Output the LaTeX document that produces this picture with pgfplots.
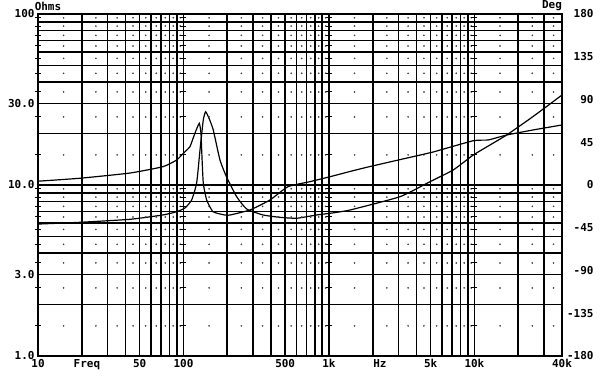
\documentclass[border=0pt]{standalone}
\usepackage{pgfplots}
\pgfplotsset{compat=1.18}
\usepackage{fontspec}
\setmainfont{DejaVu Sans Mono}
\begin{document}
\begin{tikzpicture}
\begin{axis}[name=ax,
  scale only axis, width=524bp, height=342bp,
  xmode=log, xmin=10, xmax=40000,
  axis line style={line width=2bp},
  major tick length=0pt, minor tick length=0pt,
  tick label style={font=\fontsize{11}{12}\selectfont\bfseries},
  ymode=log, ymin=1, ymax=100,
  xtick={10,21.7,50,100,500,1000,2240,5000,10000,40000},
  xticklabels={10,Freq,50,100,500,1k,Hz,5k,10k,40k},
  ytick={1,3,10,30,100},
  yticklabels={1.0,3.0,10.0,30.0,100},
  minor xtick={20,30,40,50,60,70,80,90,100,200,300,400,500,600,700,800,900,1000,2000,3000,4000,5000,6000,7000,8000,9000,10000,20000,30000},
  minor ytick={2,3,4,5,6,7,8,9,10,20,30,40,50,60,70,80,90},
  xminorgrids=true, yminorgrids=true, xmajorgrids=false, ymajorgrids=false,
  minor grid style={black, line width=1.6bp},
  clip=false,
]
\pgfplotsinvokeforeach{1.5,2.5,3.5,4.5,5.5,6.5,7.5,8.5,9.5,15,25,35,45,55,65,75,85,95}{
  \addplot[only marks, mark=*, mark size=0.6bp, black!75] coordinates {(15,#1)(25,#1)(35,#1)(45,#1)(55,#1)(65,#1)(75,#1)(85,#1)(95,#1)
    (150,#1)(250,#1)(350,#1)(450,#1)(550,#1)(650,#1)(750,#1)(850,#1)(950,#1)
    (1500,#1)(2500,#1)(3500,#1)(4500,#1)(5500,#1)(6500,#1)(7500,#1)(8500,#1)(9500,#1)
    (15000,#1)(25000,#1)(35000,#1)};
  \addplot[only marks, mark=-, mark size=3bp, black, line width=1bp]
    coordinates {(10,#1)(100,#1)(1000,#1)(10000,#1)};
}
% impedance magnitude (Ohms)
\addplot[black, line width=1.2bp, smooth, tension=0.3] coordinates {
(10,5.91)(19.4,6.05)(42.9,6.30)(72.3,6.68)(89.7,6.98)(102.4,7.34)(113.8,8.17)
(123.2,10.27)(129.9,16.0)(136.8,24.0)(142.1,26.8)(150,24.5)(160.2,21.0)(178.2,14.0)
(198.2,11.1)(232.1,8.54)(271.8,7.24)(351.9,6.68)(460.5,6.47)(600,6.39)(823,6.68)
(1016,6.83)(1394,7.14)(3076,8.54)(4946,10.45)(7150,12.24)(9813,14.97)(12780,17.13)
(16650,19.6)(25235,25.1)(40000,33.6)};
\node[font=\fontsize{11}{12}\selectfont\bfseries, xshift=10bp, yshift=8bp] at (rel axis cs:0,1) {Ohms};
\node[font=\fontsize{11}{12}\selectfont\bfseries, xshift=-10bp, yshift=8bp] at (rel axis cs:1,1) {Deg};
\end{axis}
\begin{axis}[
  scale only axis, width=524bp, height=342bp,
  xmode=log, xmin=10, xmax=40000,
  axis line style={line width=2bp},
  major tick length=0pt, minor tick length=0pt,
  tick label style={font=\fontsize{11}{12}\selectfont\bfseries},
  axis y line*=right, axis x line=none,
  ymin=-180, ymax=180,
  ytick={-180,-135,-90,-45,0,45,90,135,180},
  yticklabels={-180,-135,-90,-45,0,45,90,135,180},
  yticklabel style={anchor=east, xshift=35bp},
]
% phase (degrees)
\addplot[black, line width=1.2bp, smooth, tension=0.3] coordinates {
(10,4.0)(19.4,7.1)(42.9,12.6)(72.3,19.3)(89.7,26.3)(102.4,35.1)(110.8,40.3)
(120,54.7)(128.4,64.9)(131.9,54.7)(133.4,36.8)(136.8,2.1)(144.4,-15.8)(159.5,-28.1)
(192.8,-31.6)(208.7,-31.6)(286.4,-26.3)(393,-15.8)(522.6,-1.8)(740,3.5)(1016,8.7)
(1394,14.2)(1815,18.6)(3076,26.7)(5186,34.7)(9813,46.6)(12445,47.4)(16650,52.6)
(25235,57.9)(40000,63.2)};
\end{axis}
\pgfresetboundingbox
\path ([shift={(-38bp,-20bp)}]ax.south west) rectangle ([shift={(38bp,14bp)}]ax.north east);
\end{tikzpicture}
\end{document}
